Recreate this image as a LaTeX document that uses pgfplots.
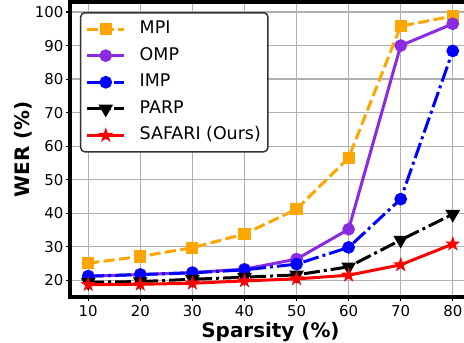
\documentclass[border=0pt]{standalone}
\usepackage{fontspec}
\setmainfont{DejaVu Sans}
\usepackage{pgfplots}
\pgfplotsset{compat=1.18}

\definecolor{mpi}{RGB}{255,165,0}
\definecolor{omp}{RGB}{138,43,226}
\definecolor{gridc}{RGB}{176,176,176}

\pgfdeclareplotmark{fstar}{%
  \pgfpathmoveto{\pgfpointpolar{90}{\pgfplotmarksize}}%
  \pgfpathlineto{\pgfpointpolar{126}{0.382\pgfplotmarksize}}%
  \pgfpathlineto{\pgfpointpolar{162}{\pgfplotmarksize}}%
  \pgfpathlineto{\pgfpointpolar{198}{0.382\pgfplotmarksize}}%
  \pgfpathlineto{\pgfpointpolar{234}{\pgfplotmarksize}}%
  \pgfpathlineto{\pgfpointpolar{270}{0.382\pgfplotmarksize}}%
  \pgfpathlineto{\pgfpointpolar{306}{\pgfplotmarksize}}%
  \pgfpathlineto{\pgfpointpolar{342}{0.382\pgfplotmarksize}}%
  \pgfpathlineto{\pgfpointpolar{18}{\pgfplotmarksize}}%
  \pgfpathlineto{\pgfpointpolar{54}{0.382\pgfplotmarksize}}%
  \pgfpathclose
  \pgfusepathqfillstroke
}

\begin{document}
\begin{tikzpicture}
\path[use as bounding box] (-70bp,-46bp) rectangle (394bp,297bp);
\begin{scope}
\clip (-70bp,-46bp) rectangle (394bp,297bp);
\begin{axis}[
  at={(0,0)}, anchor=south west,
  scale only axis,
  width=401bp, height=295bp,
  xmin=6.5, xmax=83.5,
  ymin=15, ymax=103,
  xtick={10,20,30,40,50,60,70,80},
  ytick={20,30,40,50,60,70,80,90,100},
  grid=major,
  major grid style={gridc, line width=1.3bp},
  axis line style={line width=3.5bp},
  tick align=outside,
  major tick length=3.5bp,
  tick style={black, line width=1.2bp},
  /pgf/number format/assume math mode=true,
  tick label style={font=\fontsize{15}{18}\selectfont},
  yticklabel style={inner sep=0pt, xshift=-3bp},
  xticklabel style={inner sep=0pt, yshift=-5bp},
  xlabel={Sparsity (\%)},
  ylabel={WER (\%)},
  label style={font=\bfseries\fontsize{20}{24}\selectfont},
  xlabel style={at={(axis description cs:0.5,-0.1356)}, anchor=base},
  ylabel style={at={(axis description cs:-0.1022,0.5)}, anchor=base},
  legend style={at={(0,1)}, anchor=north west, xshift=10bp, yshift=-10bp,
    draw=black!80, line width=1.5bp, rounded corners=4bp, fill=white,
    font=\fontsize{17.5}{21}\selectfont, inner xsep=5bp, inner ysep=3bp,
    nodes={text height=13bp, text depth=4bp, inner ysep=4.8bp},
    /tikz/every odd column/.append style={column sep=12bp}},
  legend cell align=left,
  legend image code/.code={\draw[mark repeat=2,mark phase=2] plot coordinates {(0bp,0bp) (18.5bp,0bp) (37bp,0bp)};},
  every axis plot/.append style={line width=3bp},
]
\addplot[color=mpi, dash pattern=on 11bp off 4.5bp, mark=square*, mark size=4.6bp, mark options={solid}]
  coordinates {(10,25.1) (20,27.1) (30,29.7) (40,33.8) (50,41.2) (60,56.5) (70,95.8) (80,98.8)};
\addlegendentry{MPI}
\addplot[color=omp, solid, mark=*, mark size=4.8bp, mark options={solid}]
  coordinates {(10,21.2) (20,21.7) (30,22.3) (40,23.3) (50,26.3) (60,35.2) (70,90.0) (80,96.5)};
\addlegendentry{OMP}
\addplot[color=blue, dash pattern=on 16bp off 4bp on 3bp off 4bp, mark=*, mark size=4.8bp, mark options={solid}]
  coordinates {(10,21.2) (20,21.7) (30,22.2) (40,23.1) (50,24.8) (60,29.8) (70,44.2) (80,88.4)};
\addlegendentry{IMP}
\addplot[color=black, dash pattern=on 16bp off 4bp on 3bp off 4bp, mark=triangle*, mark size=5.5bp, mark options={solid, rotate=180}]
  coordinates {(10,19.4) (20,19.6) (30,20.3) (40,20.9) (50,21.6) (60,24.0) (70,32.0) (80,39.7)};
\addlegendentry{PARP}
\addplot[color=red, solid, mark=fstar, mark size=6.5bp, mark options={solid, line width=1bp}]
  coordinates {(10,18.7) (20,18.8) (30,19.1) (40,19.8) (50,20.4) (60,21.5) (70,24.6) (80,30.8)};
\addlegendentry{SAFARI (Ours)}
\end{axis}
\end{scope}
\end{tikzpicture}
\end{document}
